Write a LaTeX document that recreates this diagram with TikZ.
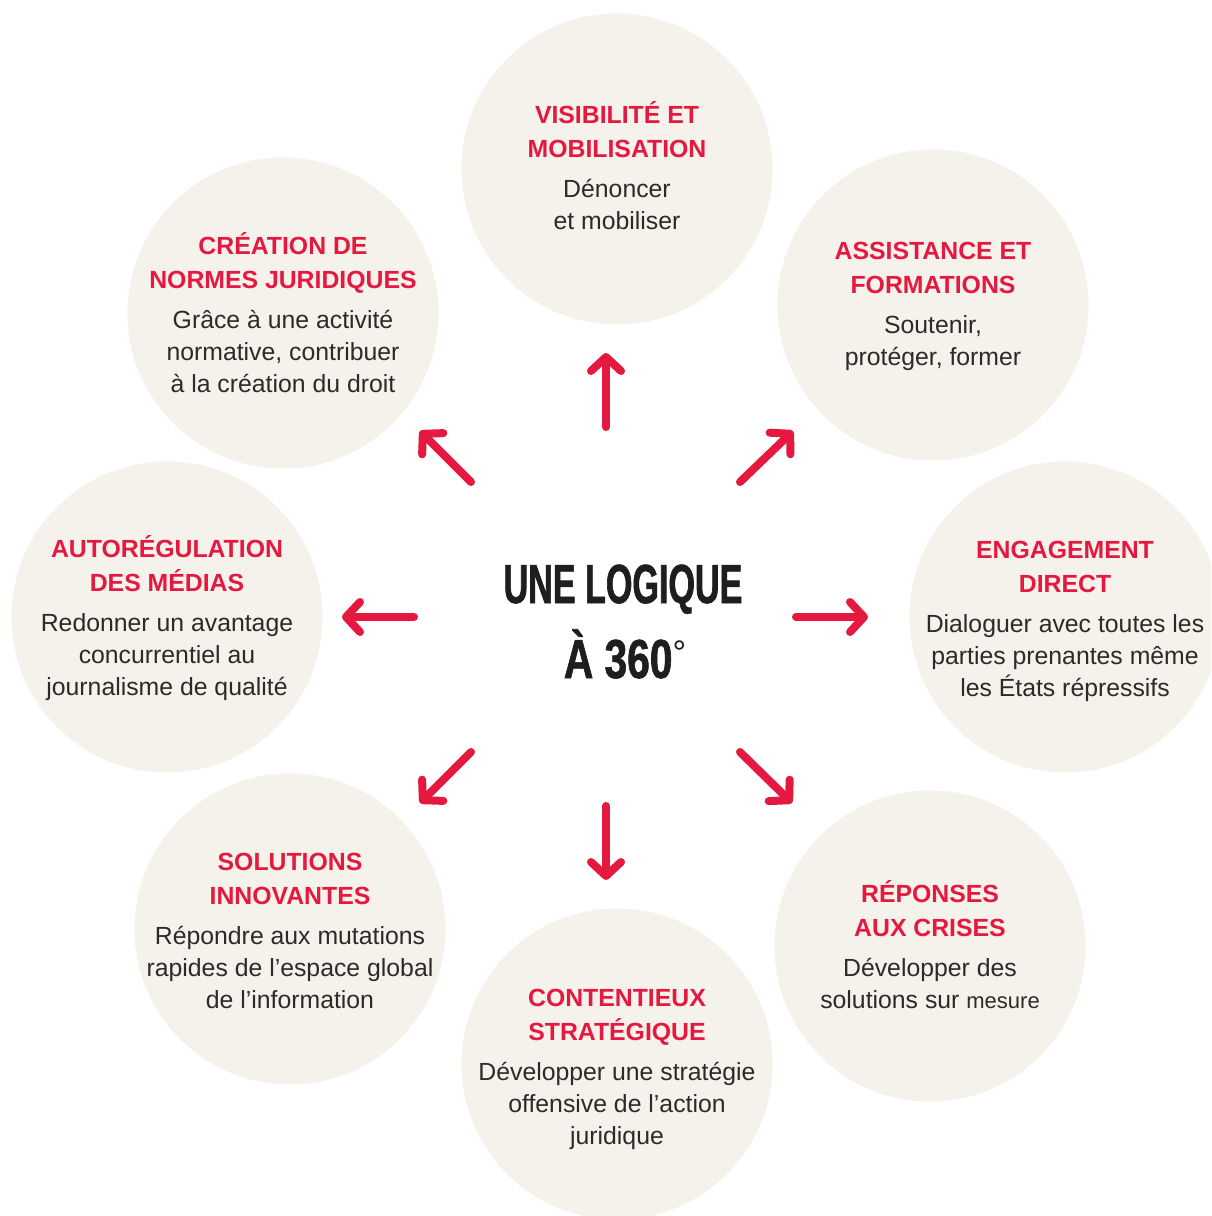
\documentclass[tikz,border=0pt]{standalone}
\usepackage{fontspec}
\setmainfont{Liberation Sans}
\newfontfamily\condfont[FakeStretch=0.62,FakeBold=1.2]{Liberation Sans}
\newfontfamily\condfontb[FakeStretch=0.74,FakeBold=1.2]{Liberation Sans}
\usetikzlibrary{arrows.meta,calc}
\definecolor{rsfred}{HTML}{E5193F}
\definecolor{discfill}{HTML}{F5F1EB}
\definecolor{ink}{HTML}{2B2B2B}
\definecolor{heading}{HTML}{1E1E1E}
\tikzset{
  disc/.style={circle, fill=discfill, minimum size=311pt, inner sep=0pt},
  ttl/.style={font=\bfseries\fontsize{24.8}{34}\selectfont, text=rsfred, anchor=base, inner sep=0pt},
  bodytxt/.style={font=\fontsize{24.8}{32}\selectfont, text=ink, anchor=base, inner sep=0pt},
  bigtxt/.style={font=\condfont\bfseries\fontsize{55}{55}\selectfont, text=heading, anchor=base, inner sep=0pt},
  bigtxtb/.style={font=\condfontb\bfseries\fontsize{55}{55}\selectfont, text=heading, anchor=base, inner sep=0pt},
  arr/.style={draw=rsfred, line width=8pt, line cap=round,
    -{Straight Barb[length=14pt, width=30pt, line cap=round, line join=round]}}
}
\newcommand\discblock[4]{%
  \foreach \t [count=\i] in {#3}
    \node[ttl] (#1-t\i) at ($(#1.center)+(0,{#2+34*(\i-1)})$) {\t};
  \foreach \t [count=\i] in {#4}
    \node[bodytxt] (#1-b\i) at ($(#1.center)+(0,{#2+74+32*(\i-1)})$) {\t};
}
\begin{document}
\begin{tikzpicture}[x=1pt,y=-1pt]
\useasboundingbox (0,0) rectangle (1211,1216);
\clip (0,0) rectangle (1211,1216);
\fill[white] (0,0) rectangle (1211,1216);

% discs
\node[disc] (vis) at (617,169) {};
\node[disc] (assist) at (933,305) {};
\node[disc] (engage) at (1065,617) {};
\node[disc] (crises) at (930,946) {};
\node[disc] (cont) at (617,1064) {};
\node[disc] (sol) at (290,929) {};
\node[disc] (autoreg) at (167,617) {};
\node[disc] (creation) at (283,313) {};

% texts
\discblock{vis}{-46}{VISIBILITÉ ET,MOBILISATION}{Dénoncer,et mobiliser}
\discblock{assist}{-46}{ASSISTANCE ET,FORMATIONS}{{Soutenir,},{protéger, former}}
\discblock{engage}{-59}{ENGAGEMENT,DIRECT}{Dialoguer avec toutes les,parties prenantes même,les États répressifs}
\discblock{crises}{-44}{RÉPONSES,AUX CRISES}{Développer des,{solutions sur {\fontsize{22}{32}\selectfont mesure}}}
\discblock{cont}{-58}{CONTENTIEUX,STRATÉGIQUE}{Développer une stratégie,offensive de l’action,juridique}
\discblock{sol}{-59}{SOLUTIONS,INNOVANTES}{Répondre aux mutations,rapides de l’espace global,de l’information}
\discblock{autoreg}{-60}{AUTORÉGULATION,DES MÉDIAS}{Redonner un avantage,concurrentiel au,journalisme de qualité}
\discblock{creation}{-59}{CRÉATION DE,NORMES JURIDIQUES}{Grâce à une activité,{normative, contribuer},à la création du droit}

% centre
\node[bigtxt] (centre1) at (623,603) {UNE LOGIQUE};
\node[bigtxtb] (centre2) at (625,678) {À 360\raisebox{14pt}{\normalfont\fontsize{34}{34}\selectfont °}};

% arrow ends
\coordinate (upS) at (606,427);   \coordinate (upE) at (606,353);
\coordinate (ulS) at (471,482);   \coordinate (ulE) at (420,431);
\coordinate (urS) at (740,482);   \coordinate (urE) at (793,431);
\coordinate (lS) at (414,617);    \coordinate (lE) at (342,617);
\coordinate (rS) at (796,617);    \coordinate (rE) at (868,617);
\coordinate (dlS) at (471,752);   \coordinate (dlE) at (420,803);
\coordinate (dS) at (606,806);    \coordinate (dE) at (606,880);
\coordinate (drS) at (740,752);   \coordinate (drE) at (792,803);

\draw[arr] (upS) -- (upE);
\draw[arr] (ulS) -- (ulE);
\draw[arr] (urS) -- (urE);
\draw[arr] (lS) -- (lE);
\draw[arr] (rS) -- (rE);
\draw[arr] (dlS) -- (dlE);
\draw[arr] (dS) -- (dE);
\draw[arr] (drS) -- (drE);
\end{tikzpicture}
\end{document}
